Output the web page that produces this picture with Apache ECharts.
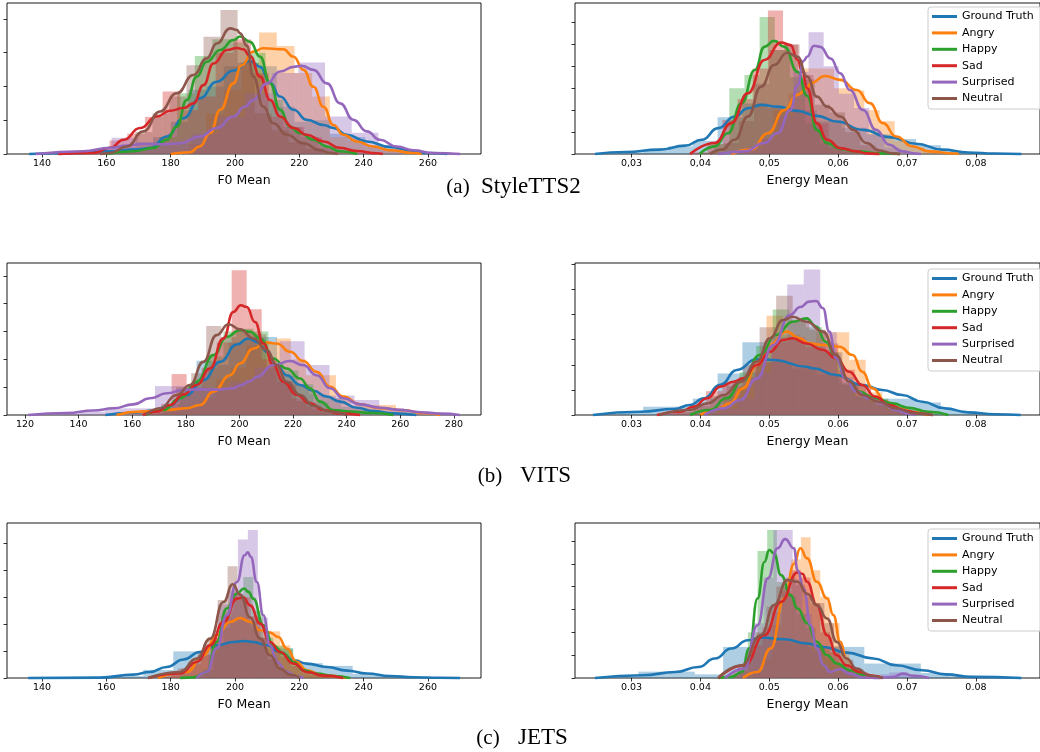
<!DOCTYPE html>
<html><head><meta charset="utf-8">
<script src="https://cdn.jsdelivr.net/npm/echarts@6/dist/echarts.min.js"></script>
<style>html,body{margin:0;padding:0;background:#fff}#c{width:1040px;height:752px}</style>
</head><body><div id="c"></div>
<script>
// ---------------- DATA ----------------
const SERIES_NAMES = ['Ground Truth','Angry','Happy','Sad','Surprised','Neutral'];
const COLORS = ['#1f77b4','#ff7f0e','#2ca02c','#d62728','#9467bd','#8c564b'];
const CAPTION_TAGS = ['(a)','(b)','(c)'];
const CAPTION_NAMES = ['StyleTTS2','VITS','JETS'];

// tick values
const X_TICKS_A_F0 = [140,160,180,200,220,240,260];
const X_TICKS_B_F0 = [120,140,160,180,200,220,240,260,280];
const X_TICKS_C_F0 = [140,160,180,200,220,240,260];
const X_TICKS_EN = [0.03,0.04,0.05,0.06,0.07,0.08];
const Y_TICKS_A_F0 = [0,0.01,0.02,0.03,0.04];
const Y_TICKS_A_EN = [0,20,40,60,80,100,120];
const Y_TICKS_B_F0 = [0,0.01,0.02,0.03,0.04,0.05];
const Y_TICKS_B_EN = [0,20,40,60,80,100,120];
const Y_TICKS_C_F0 = [0,0.02,0.04,0.06,0.08,0.10];
const Y_TICKS_C_EN = [0,25,50,75,100,125,150];

// ===== (a) StyleTTS2 — F0 Mean, KDE [x, density]
const A_F0_KDE_GT = [[136,0],[150,0.0003],[160,0.0008],[170,0.0014],[173.6,0.0018],[178.8,0.0052],[184,0.0106],[189.1,0.0165],[194.3,0.0214],[199.5,0.0247],[204.7,0.0275],[207.8,0.0258],[211,0.021],[214,0.017],[218.2,0.0131],[222.3,0.0101],[227.5,0.0086],[230.6,0.0077],[234.8,0.0057],[241,0.0037],[248.2,0.0021],[255.5,0.0008],[260,0.0003],[266,0]];
const A_F0_KDE_ANGRY = [[180,0],[186,0.0005],[189,0.0022],[192.3,0.0062],[195.4,0.0131],[199.5,0.0209],[202,0.0262],[205.7,0.0303],[208.8,0.0313],[215,0.031],[218.2,0.0288],[221.3,0.0249],[224.4,0.0199],[227.5,0.014],[230.6,0.0086],[233.7,0.0057],[237.9,0.0037],[243,0.0022],[248.2,0.0011],[255.5,0.0003],[258,0]];
const A_F0_KDE_HAPPY = [[160,0],[168.4,0.0008],[174.6,0.0018],[178.8,0.0042],[181.9,0.0081],[185,0.016],[188.1,0.0229],[191.2,0.0273],[195.4,0.0308],[199.5,0.0337],[201.6,0.0348],[204.7,0.0332],[207.8,0.0288],[210.9,0.0209],[214,0.0131],[217.1,0.0081],[220.2,0.0062],[224.4,0.0042],[228.6,0.0022],[232.7,0.0008],[238,0]];
const A_F0_KDE_SAD = [[145,0],[156,0.0003],[161.2,0.0018],[165.3,0.0042],[170.5,0.0077],[175.7,0.0111],[179.8,0.0128],[184,0.0136],[187.1,0.015],[190.2,0.0204],[193.3,0.0268],[197.5,0.0308],[200.6,0.0314],[202.5,0.031],[204.7,0.029],[207.8,0.0229],[210.9,0.016],[214,0.0111],[218.2,0.0077],[222.3,0.0057],[227.5,0.0037],[232.7,0.0018],[237.9,0.0009],[244.1,0.0002],[246,0]];
const A_F0_KDE_SURPRISED = [[138,0],[152.8,0.0008],[161.2,0.0018],[166.4,0.0025],[171.5,0.003],[176.7,0.0029],[183,0.0032],[189.1,0.0052],[194.3,0.0077],[199.5,0.0111],[203,0.014],[205.7,0.016],[209.9,0.0209],[214,0.0244],[218.2,0.0258],[220.8,0.0261],[224.4,0.0249],[228.6,0.0209],[232.7,0.015],[236.8,0.0101],[241,0.0067],[245.1,0.0042],[250.3,0.0022],[255.5,0.0011],[261.7,0.0003],[270,0]];
const A_F0_KDE_NEUTRAL = [[158,0],[161.2,0.0003],[166.4,0.0022],[171.5,0.0067],[176.7,0.0126],[181.9,0.018],[187.1,0.0234],[191.2,0.0283],[194.3,0.0327],[198.5,0.0372],[200.6,0.0367],[201.6,0.0357],[203.7,0.032],[205.7,0.0229],[208.8,0.014],[211.9,0.0091],[216.1,0.0057],[221.3,0.0032],[226.5,0.0011],[229.6,0.0003],[232,0]];
// histograms: first bin edge, bin width, densities
const A_F0_HIST_START = [136,180,160,150,136.7,158.4];
const A_F0_HIST_WIDTH = [5.5,5.5,5.5,5.5,8.3,5.3];
const A_F0_HIST_GT = [0.0002,0.0002,0.0004,0.0004,0.0008,0.0012,0.0015,0.005,0.0095,0.019,0.02,0.026,0.027,0.026,0.014,0.0095,0.01,0.006,0.005,0.0025,0.002,0.0008,0.0004,0.0002];
const A_F0_HIST_ANGRY = [0.0005,0.003,0.012,0.019,0.027,0.036,0.032,0.024,0.017,0.005,0.004,0.002,0.0012,0.0005];
const A_F0_HIST_HAPPY = [0.0005,0.001,0.0018,0.005,0.018,0.029,0.034,0.033,0.03,0.016,0.008,0.005,0.002,0.0005];
const A_F0_HIST_SAD = [0.0004,0.001,0.004,0.006,0.011,0.0185,0.013,0.017,0.03,0.034,0.024,0.011,0.008,0.005,0.002,0.001,0.0004];
const A_F0_HIST_SURPRISED = [0.0003,0.0006,0.001,0.0048,0.0035,0.003,0.006,0.011,0.018,0.024,0.0271,0.0111,0.0063,0.0015,0.0005,0.0002];
const A_F0_HIST_NEUTRAL = [0.0004,0.002,0.0065,0.012,0.017,0.0263,0.0347,0.0426,0.027,0.012,0.007,0.0035,0.0015,0.0004];

// ===== (a) StyleTTS2 — Energy Mean
const A_EN_KDE_GT = [[0.0247,0],[0.0292,1.8],[0.034,4],[0.0378,7.6],[0.0402,13],[0.0426,23.6],[0.045,34.2],[0.0469,41.8],[0.0488,44.8],[0.0512,43.2],[0.0541,39.4],[0.0569,34.8],[0.0598,29.6],[0.0636,22],[0.0674,15.4],[0.0713,9.4],[0.0751,4],[0.0789,1.4],[0.0827,0.4],[0.0866,0]];
const A_EN_KDE_ANGRY = [[0.0445,0],[0.0474,4],[0.0498,19],[0.0522,40.2],[0.0541,54],[0.0555,60],[0.056,64.6],[0.0581,71.2],[0.0603,67.6],[0.0627,58.4],[0.0646,46.4],[0.0665,28.2],[0.0684,16],[0.0708,7],[0.0732,2.4],[0.077,0.4],[0.0775,0]];
const A_EN_KDE_HAPPY = [[0.0399,0],[0.0421,7],[0.044,19],[0.046,46.4],[0.0479,76.6],[0.0493,97.8],[0.0507,103.2],[0.0522,97.8],[0.0541,75],[0.0555,53],[0.0569,22],[0.0584,10],[0.0603,4.6],[0.0627,2.4],[0.066,0.6],[0.069,0]];
const A_EN_KDE_SAD = [[0.0385,0],[0.0421,10],[0.0445,28.2],[0.0469,55.4],[0.0493,85.8],[0.0517,101.8],[0.0531,99.4],[0.0541,86],[0.0548,75],[0.0555,60],[0.0569,28.2],[0.0584,13],[0.0603,5.4],[0.0627,2.4],[0.0641,0.6],[0.066,0]];
const A_EN_KDE_SURPRISED = [[0.0426,0],[0.0464,2.4],[0.0493,10],[0.0512,19],[0.0531,40.2],[0.0541,63],[0.055,85],[0.0555,88.8],[0.0565,98.8],[0.0574,97.8],[0.0589,87.2],[0.0603,73.6],[0.0617,58.4],[0.0636,40.2],[0.0655,22],[0.0674,8.4],[0.0693,2.4],[0.0713,0.4],[0.072,0]];
const A_EN_KDE_NEUTRAL = [[0.0414,0],[0.0431,4],[0.045,13],[0.0469,34.2],[0.0488,61.4],[0.0507,81.2],[0.0526,92.4],[0.0541,88.8],[0.0555,70.6],[0.0569,52.4],[0.0584,43.2],[0.0603,34.2],[0.0622,22],[0.0641,10],[0.066,3.2],[0.0679,0.6],[0.069,0]];
const A_EN_HIST_START = [0.0245,0.0440,0.0398,0.0388,0.0425,0.0412];
const A_EN_HIST_WIDTH = [0.0036,0.0022,0.0022,0.0022,0.0022,0.0022];
const A_EN_HIST_GT = [0.4,1.5,3,6.9,12,33.6,46,42,40,30,24,18,13.6,8,2.5,1,0.3];
const A_EN_HIST_ANGRY = [0.5,5,14,40,55,78,78,60,58,40,30,12,6,2,0.5];
const A_EN_HIST_HAPPY = [1,9,60,72,125,95,70,28,10,4,1.5,0.5];
const A_EN_HIST_SAD = [1.5,9,31,50,78,131,100,72,28,6,2];
const A_EN_HIST_SURPRISED = [0.5,2,6,14,35,75,111,80,55,42,18,6,1.5];
const A_EN_HIST_NEUTRAL = [2,10,30,64,95,100,68,45,38,20,8,2];

// ===== (b) VITS — F0 Mean
const B_F0_KDE_GT = [[150,0],[160.4,0.0008],[167.9,0.0016],[172.9,0.003],[180.3,0.0072],[186.5,0.0125],[192.8,0.0191],[199,0.0253],[203.3,0.0275],[207.1,0.026],[210.2,0.0227],[213.9,0.0179],[217.6,0.0143],[222.6,0.0108],[227.6,0.0087],[232.6,0.0066],[237.5,0.0048],[243.8,0.0026],[250,0.0014],[257.4,0.0006],[266,0]];
const B_F0_KDE_ANGRY = [[154.2,0],[162.9,0.0012],[172.9,0.0018],[180.3,0.0024],[185.3,0.0036],[190.3,0.0084],[196.5,0.0143],[200.2,0.0185],[205.2,0.0239],[210.2,0.0261],[213.9,0.0257],[218.9,0.0227],[223.8,0.0194],[228.8,0.0155],[233.8,0.0101],[238.8,0.0066],[245,0.0038],[252.5,0.0024],[261.2,0.0017],[268.6,0.0007],[274.9,0]];
const B_F0_KDE_HAPPY = [[165,0],[171.6,0.0018],[177.8,0.006],[184.1,0.0119],[190.3,0.0215],[195.3,0.0281],[200.2,0.0305],[204,0.0299],[207.7,0.0275],[212.6,0.0203],[217.6,0.0167],[222.6,0.0131],[226.3,0.0096],[230.1,0.0048],[235,0.0018],[241.3,0.0012],[250,0.0007],[257.4,0]];
const B_F0_KDE_SAD = [[164,0],[169.1,0.0012],[174.1,0.0036],[179.1,0.0074],[184.1,0.0108],[189,0.0167],[194,0.0275],[197.7,0.037],[200.5,0.0394],[202.7,0.0388],[205.8,0.0334],[208.9,0.0257],[212.6,0.0179],[216.4,0.0119],[221.4,0.0072],[226.3,0.0042],[231.3,0.0018],[237.5,0.0005],[245,0]];
const B_F0_KDE_SURPRISED = [[121.2,0],[135.6,0.0007],[145.5,0.0016],[153,0.0024],[160.4,0.0038],[166.6,0.006],[172.9,0.0078],[179.1,0.009],[185.3,0.0092],[191.5,0.0091],[197.7,0.0096],[200.2,0.0106],[204,0.0122],[206.5,0.0137],[212.6,0.0179],[218.9,0.0194],[223.8,0.0179],[228.8,0.0143],[233.8,0.0096],[238.8,0.006],[245,0.0038],[252.5,0.0026],[259.9,0.0018],[267.4,0.001],[274.9,0.0005],[282.2,0]];
const B_F0_KDE_NEUTRAL = [[165,0],[170.4,0.0024],[176.6,0.0072],[181.6,0.0108],[186.5,0.0191],[191.5,0.0287],[195.9,0.0326],[200.2,0.0308],[205.2,0.0275],[210.2,0.0233],[213.9,0.0179],[217.6,0.0119],[222.6,0.0072],[227.6,0.0033],[233.8,0.0012],[240,0]];
const B_F0_HIST_START = [160,152,166,163.5,122,165.2];
const B_F0_HIST_WIDTH = [6,5.6,5.6,5.6,9.3,5.6];
const B_F0_HIST_GT = [0.001,0.0012,0.004,0.009,0.0195,0.018,0.026,0.027,0.028,0.014,0.011,0.0075,0.006,0.003,0.002,0.0008,0.0004];
const B_F0_HIST_ANGRY = [0.0003,0.0009,0.0014,0.0016,0.002,0.003,0.006,0.013,0.017,0.025,0.026,0.0275,0.02,0.0143,0.0143,0.006,0.0035,0.0036,0.0036,0.0015,0.0008,0.0002];
const B_F0_HIST_HAPPY = [0.0004,0.0025,0.0075,0.013,0.021,0.03,0.031,0.03,0.018,0.016,0.011,0.0045,0.002,0.0012,0.0007,0.0004];
const B_F0_HIST_SAD = [0.0005,0.002,0.0147,0.009,0.017,0.026,0.052,0.038,0.02,0.012,0.006,0.003,0.001,0.0002];
const B_F0_HIST_SURPRISED = [0.0002,0.0006,0.0012,0.0024,0.0024,0.0104,0.0104,0.009,0.012,0.017,0.0265,0.018,0.007,0.0054,0.0025,0.0012,0.0004];
const B_F0_HIST_NEUTRAL = [0.001,0.004,0.01,0.015,0.032,0.028,0.03,0.029,0.017,0.012,0.005,0.002,0.0005];

// ===== (b) VITS — Energy Mean
const B_EN_KDE_GT = [[0.0244,0],[0.0313,2.6],[0.0362,4.8],[0.0385,8],[0.0405,13.3],[0.0429,24],[0.0453,35.9],[0.0482,44.6],[0.0506,43.8],[0.0554,38.5],[0.0563,37.2],[0.0597,31.9],[0.0635,23.9],[0.0664,19.9],[0.0693,15.9],[0.0722,10.6],[0.0755,5.3],[0.0789,2.1],[0.0827,0.6],[0.0865,0]];
const B_EN_KDE_ANGRY = [[0.04,0],[0.0424,4.8],[0.0443,9.3],[0.0462,21.2],[0.0482,39.8],[0.0501,55.8],[0.0525,66.4],[0.0544,61.1],[0.0558,57.1],[0.0578,55.8],[0.0602,54.4],[0.0621,47.8],[0.0635,34.5],[0.065,21.2],[0.0669,10.6],[0.0688,5.3],[0.0712,2.1],[0.0731,0]];
const B_EN_KDE_HAPPY = [[0.0385,0],[0.0414,4],[0.0438,13.3],[0.0462,27.9],[0.0486,47.8],[0.051,63.7],[0.0534,74.3],[0.0554,77],[0.0568,70.4],[0.0582,58.4],[0.0597,45.2],[0.0611,29.2],[0.063,18.6],[0.0654,13.3],[0.0679,9.3],[0.0702,5.8],[0.0731,2.6],[0.076,0]];
const B_EN_KDE_SAD = [[0.0337,0],[0.0371,2.6],[0.039,6.6],[0.041,13.3],[0.0429,22.6],[0.0448,26.5],[0.0462,29.2],[0.0482,39.8],[0.0501,50.4],[0.052,59.8],[0.0534,61.1],[0.0554,57],[0.0578,51.8],[0.0597,45.2],[0.0616,34.5],[0.0635,23.9],[0.0654,14.6],[0.0674,8],[0.0698,3.4],[0.0722,1],[0.0737,0]];
const B_EN_KDE_SURPRISED = [[0.0406,0],[0.0434,5.3],[0.0458,12],[0.0482,29.2],[0.0506,55.8],[0.053,79.7],[0.0545,86],[0.0558,90.3],[0.0568,90.8],[0.0578,85],[0.0587,66.4],[0.0597,45.2],[0.0611,29.2],[0.0626,18.6],[0.0645,13.3],[0.0664,9.3],[0.0683,4],[0.0702,1],[0.0712,0]];
const B_EN_KDE_NEUTRAL = [[0.034,0],[0.0385,4],[0.041,9.3],[0.0434,15.9],[0.0458,26.5],[0.0482,42.5],[0.0501,61.1],[0.052,75.7],[0.0534,78.3],[0.0554,74.3],[0.0578,66.4],[0.0597,47.8],[0.0616,26.5],[0.0635,15.9],[0.0659,10.6],[0.0683,5.3],[0.0712,1.3],[0.0737,0]];
const B_EN_HIST_START = [0.0245,0.0400,0.0385,0.0336,0.0406,0.0366];
const B_EN_HIST_WIDTH = [0.0036,0.0024,0.0024,0.0024,0.0024,0.0024];
const B_EN_HIST_GT = [0.4,1.8,6.6,6.6,13,33,58,42,37,32,25,13,13,10,4,1.5,0.3];
const B_EN_HIST_ANGRY = [1.5,7,22,40,79,64,56,66,66,44,18,8,3,0.8];
const B_EN_HIST_HAPPY = [1,5,15,34,55,84,76,70,50,26,15,13,8,5,2,0.5];
const B_EN_HIST_SAD = [0.5,2.5,8,19,26,30,42,58,62,54,57,36,24,12,5,2,0.4];
const B_EN_HIST_SURPRISED = [2,5,13,34,62,104,116,66,30,15,10,4,0.8];
const B_EN_HIST_NEUTRAL = [2.5,7,15,23,40,70,95,75,68,50,24,14,8,4,1];

// ===== (c) JETS — F0 Mean
const C_F0_KDE_GT = [[135.7,0],[158,0.0003],[168.4,0.0025],[173.6,0.0045],[178.8,0.0082],[184,0.0137],[189.1,0.0193],[194.3,0.0243],[199.5,0.0268],[203,0.0275],[205.7,0.0268],[209.9,0.0243],[214,0.0193],[218.2,0.0132],[222.3,0.0107],[228.6,0.0082],[234.8,0.0055],[241,0.0033],[248.2,0.0015],[255.5,0.0006],[263.7,0.0002],[270,0]];
const C_F0_KDE_ANGRY = [[176,0],[185,0.0045],[190.2,0.0169],[194.3,0.0318],[198.5,0.0416],[201.6,0.0446],[204.7,0.0418],[207.8,0.0355],[210.9,0.0337],[213.5,0.0305],[216.1,0.0219],[219.2,0.0119],[222.3,0.0057],[227.5,0.0018],[234.8,0]];
const C_F0_KDE_HAPPY = [[182.9,0],[187.1,0.0005],[191.2,0.0045],[194.3,0.0268],[197.4,0.0516],[200.6,0.0628],[202.8,0.0665],[204.2,0.064],[205.7,0.059],[208.8,0.0392],[211.9,0.0243],[215,0.0181],[218.2,0.0119],[221.3,0.0057],[225.4,0.0033],[230.6,0.0015],[235.8,0]];
const C_F0_KDE_SAD = [[173,0],[182.9,0.0033],[188.1,0.0119],[192.3,0.0243],[196.4,0.0416],[200.6,0.059],[202.5,0.06],[204.7,0.054],[207.8,0.0404],[210.9,0.0268],[214,0.0193],[218.2,0.0107],[222.3,0.0045],[227.5,0.0018],[233.7,0]];
const C_F0_KDE_SURPRISED = [[188.1,0],[191.2,0.0045],[194.3,0.0219],[197.4,0.0466],[200.6,0.0714],[203,0.0912],[204,0.0935],[204.9,0.09],[206.8,0.0714],[208.8,0.0466],[210.9,0.0243],[213,0.0119],[216.1,0.0045],[219.2,0.001],[221.3,0]];
const C_F0_KDE_NEUTRAL = [[173,0],[182.9,0.0045],[188.1,0.0144],[192.3,0.0293],[196.4,0.0565],[199.3,0.0697],[201.6,0.062],[204.7,0.045],[207.8,0.0293],[210.9,0.0169],[214,0.007],[217.1,0.0025],[220.2,0]];
const C_F0_HIST_START = [134.3,180,184,177,188.5,176];
const C_F0_HIST_WIDTH = [9.3,3.1,3.1,3.1,3.1,3.1];
const C_F0_HIST_GT = [0.0001,0.0002,0.0004,0.0015,0.006,0.0198,0.025,0.027,0.022,0.011,0.009,0.003,0.0012,0.0003,0.0001];
const C_F0_HIST_ANGRY = [0.002,0.004,0.01,0.017,0.03,0.037,0.044,0.045,0.038,0.0347,0.0347,0.0243,0.014,0.006,0.003,0.0013,0.0004];
const C_F0_HIST_HAPPY = [0.0003,0.001,0.006,0.026,0.05,0.062,0.075,0.05,0.03,0.024,0.022,0.009,0.004,0.003,0.0015,0.0006];
const C_F0_HIST_SAD = [0.001,0.0025,0.007,0.011,0.017,0.03,0.046,0.062,0.06,0.046,0.03,0.022,0.016,0.009,0.005,0.0025,0.0015,0.0005];
const C_F0_HIST_SURPRISED = [0.003,0.018,0.0548,0.065,0.103,0.11,0.045,0.017,0.006,0.0015];
const C_F0_HIST_NEUTRAL = [0.001,0.003,0.007,0.012,0.02,0.03,0.058,0.083,0.06,0.042,0.03,0.014,0.006,0.002];

// ===== (c) JETS — Energy Mean
const C_EN_KDE_GT = [[0.0247,0],[0.0316,3],[0.0364,6.6],[0.0397,12],[0.0421,21.3],[0.0445,32.2],[0.0469,41.3],[0.0488,44.3],[0.0522,42.4],[0.0555,37.7],[0.0579,34],[0.0612,27.8],[0.0651,21.3],[0.0684,13.9],[0.0722,8.4],[0.0756,4],[0.0794,1.2],[0.0866,0]];
const C_EN_KDE_ANGRY = [[0.0462,0],[0.0483,6.6],[0.0502,32.2],[0.0522,87],[0.0536,125],[0.0545,141.9],[0.0555,130.9],[0.0569,105.3],[0.0584,87],[0.0593,68.8],[0.0603,39.5],[0.0612,21.3],[0.0627,8.4],[0.0646,2.5],[0.066,0]];
const C_EN_KDE_HAPPY = [[0.0426,0],[0.0445,1.2],[0.046,6.6],[0.0471,32.2],[0.0483,87],[0.0493,127],[0.05,140],[0.0507,136.4],[0.0517,112.6],[0.0531,90.7],[0.0541,76],[0.0555,60],[0.0569,39.5],[0.0584,24.9],[0.0598,15.8],[0.0617,8.4],[0.0636,3.7],[0.0655,0]];
const C_EN_KDE_SAD = [[0.0426,0],[0.0464,13.9],[0.0493,46.8],[0.0517,83.3],[0.0541,115.5],[0.0548,114],[0.0555,105.3],[0.0569,79.7],[0.0584,46.8],[0.0598,24.9],[0.0612,13.9],[0.0631,6.6],[0.065,2.5],[0.0665,0]];
const C_EN_KDE_SURPRISED = [[0.0436,0],[0.0464,10.3],[0.0483,57.8],[0.0498,109],[0.0512,141.9],[0.0523,152],[0.0536,141.9],[0.0541,118],[0.055,98],[0.056,57.8],[0.0569,32.2],[0.0579,13.9],[0.0588,6.6],[0.0603,9.5],[0.0617,4.8],[0.0636,0.5],[0.066,0],[0.0679,1],[0.0694,4.8],[0.0708,2.5],[0.0732,0]];
const C_EN_KDE_NEUTRAL = [[0.0426,0],[0.046,13.9],[0.0488,46.8],[0.0507,79.7],[0.0526,107.1],[0.0541,105.3],[0.0555,92],[0.0569,79.7],[0.0584,65.1],[0.0598,39.5],[0.0612,21.3],[0.0627,10.3],[0.0646,2.5],[0.0665,0]];
const C_EN_HIST_START = [0.0269,0.0462,0.0427,0.0434,0.0436,0.0426];
const C_EN_HIST_WIDTH = [0.0041,0.0014,0.0014,0.0014,0.0014,0.0014];
const C_EN_HIST_GT = [1.5,7,7,4,34,44,40,34,34,15.8,15.8,5.5,2,0.8,0.2];
const C_EN_HIST_ANGRY = [2,7,22,58,100,130,154,118,89,60,30,10,3,0.5];
const C_EN_HIST_HAPPY = [0.2,1.5,8,50,139,162,105,90,70,55,35,22,14,8,4,1.5];
const C_EN_HIST_SAD = [1,6,17,36,55,72,95,118,110,82,50,28,15,9,4,2,0.3];
const C_EN_HIST_SURPRISED = [1,5,24,60,110,162,162,108,70,30,10,6,8,4,0,0,4,6,6,4,0];
const C_EN_HIST_NEUTRAL = [0.5,4,14,30,50,78,100,110,102,88,82,60,35,20,9,3,1];

// ---------------- LAYOUT ----------------
const ROWS = [
  {top:3, height:151, legendTop:7, capY:187, tagX:458, nameX:481},
  {top:263, height:152, legendTop:269, capY:476, tagX:490, nameX:520},
  {top:523, height:155, legendTop:529, capY:738, tagX:488, nameX:518}
];
const PANELS = [
  {row:0, left:7, width:474, xr:[129.1,276.5], ymax:0.0447, xt:X_TICKS_A_F0, yt:Y_TICKS_A_F0, name:'F0 Mean', comma:false, energy:false,
   kde:[A_F0_KDE_GT,A_F0_KDE_ANGRY,A_F0_KDE_HAPPY,A_F0_KDE_SAD,A_F0_KDE_SURPRISED,A_F0_KDE_NEUTRAL],
   hs:A_F0_HIST_START, hw:A_F0_HIST_WIDTH, hist:[A_F0_HIST_GT,A_F0_HIST_ANGRY,A_F0_HIST_HAPPY,A_F0_HIST_SAD,A_F0_HIST_SURPRISED,A_F0_HIST_NEUTRAL]},
  {row:0, left:575, width:471, xr:[0.0218,0.0893], ymax:137.8, xt:X_TICKS_EN, yt:Y_TICKS_A_EN, name:'Energy Mean', comma:true, energy:true,
   kde:[A_EN_KDE_GT,A_EN_KDE_ANGRY,A_EN_KDE_HAPPY,A_EN_KDE_SAD,A_EN_KDE_SURPRISED,A_EN_KDE_NEUTRAL],
   hs:A_EN_HIST_START, hw:A_EN_HIST_WIDTH, hist:[A_EN_HIST_GT,A_EN_HIST_ANGRY,A_EN_HIST_HAPPY,A_EN_HIST_SAD,A_EN_HIST_SURPRISED,A_EN_HIST_NEUTRAL]},
  {row:1, left:7, width:474, xr:[113.3,290.1], ymax:0.0546, xt:X_TICKS_B_F0, yt:Y_TICKS_B_F0, name:'F0 Mean', comma:false, energy:false,
   kde:[B_F0_KDE_GT,B_F0_KDE_ANGRY,B_F0_KDE_HAPPY,B_F0_KDE_SAD,B_F0_KDE_SURPRISED,B_F0_KDE_NEUTRAL],
   hs:B_F0_HIST_START, hw:B_F0_HIST_WIDTH, hist:[B_F0_HIST_GT,B_F0_HIST_ANGRY,B_F0_HIST_HAPPY,B_F0_HIST_SAD,B_F0_HIST_SURPRISED,B_F0_HIST_NEUTRAL]},
  {row:1, left:575, width:471, xr:[0.0218,0.0893], ymax:121.1, xt:X_TICKS_EN, yt:Y_TICKS_B_EN, name:'Energy Mean', comma:false, energy:true,
   kde:[B_EN_KDE_GT,B_EN_KDE_ANGRY,B_EN_KDE_HAPPY,B_EN_KDE_SAD,B_EN_KDE_SURPRISED,B_EN_KDE_NEUTRAL],
   hs:B_EN_HIST_START, hw:B_EN_HIST_WIDTH, hist:[B_EN_HIST_GT,B_EN_HIST_ANGRY,B_EN_HIST_HAPPY,B_EN_HIST_SAD,B_EN_HIST_SURPRISED,B_EN_HIST_NEUTRAL]},
  {row:2, left:7, width:474, xr:[129.1,276.5], ymax:0.1152, xt:X_TICKS_C_F0, yt:Y_TICKS_C_F0, name:'F0 Mean', comma:false, energy:false,
   kde:[C_F0_KDE_GT,C_F0_KDE_ANGRY,C_F0_KDE_HAPPY,C_F0_KDE_SAD,C_F0_KDE_SURPRISED,C_F0_KDE_NEUTRAL],
   hs:C_F0_HIST_START, hw:C_F0_HIST_WIDTH, hist:[C_F0_HIST_GT,C_F0_HIST_ANGRY,C_F0_HIST_HAPPY,C_F0_HIST_SAD,C_F0_HIST_SURPRISED,C_F0_HIST_NEUTRAL]},
  {row:2, left:575, width:471, xr:[0.0218,0.0893], ymax:169.6, xt:X_TICKS_EN, yt:Y_TICKS_C_EN, name:'Energy Mean', comma:false, energy:true,
   kde:[C_EN_KDE_GT,C_EN_KDE_ANGRY,C_EN_KDE_HAPPY,C_EN_KDE_SAD,C_EN_KDE_SURPRISED,C_EN_KDE_NEUTRAL],
   hs:C_EN_HIST_START, hw:C_EN_HIST_WIDTH, hist:[C_EN_HIST_GT,C_EN_HIST_ANGRY,C_EN_HIST_HAPPY,C_EN_HIST_SAD,C_EN_HIST_SURPRISED,C_EN_HIST_NEUTRAL]}
];

function binRows(start, width, heights){
  return heights.map((h,i)=>[start + i*width, start + (i+1)*width, h]);
}
function histRenderer(color){
  return function(params, api){
    const a = api.coord([api.value(0), api.value(2)]);
    const b = api.coord([api.value(1), 0]);
    return {type:'rect', shape:{x:a[0], y:a[1], width:b[0]-a[0], height:b[1]-a[1]},
            style:{fill:color, opacity:0.36}};
  };
}

const grids=[], xAxes=[], yAxes=[], series=[], legends=[], graphics=[];
const FONT = 'DejaVu Sans';
PANELS.forEach((p,i)=>{
  const r = ROWS[p.row];
  grids.push({left:p.left, top:r.top, width:p.width, height:r.height, show:true,
    borderColor:'#000', borderWidth:0.9, backgroundColor:'transparent', containLabel:false});
  xAxes.push({type:'value', gridIndex:i, min:p.xr[0], max:p.xr[1],
    name:p.name, nameLocation:'middle', nameGap:20,
    nameTextStyle:{fontFamily:FONT, fontSize:12.5, color:'#000'},
    axisLine:{show:false}, splitLine:{show:false},
    axisTick:{show:true, length:3.5, inside:false, lineStyle:{color:'#000', width:0.8}, customValues:p.xt},
    axisLabel:{show:true, fontFamily:FONT, fontSize:9.5, color:'#000', margin:5, customValues:p.xt,
      formatter: v => { if (p.energy){ const s = Number(v).toFixed(2); return p.comma ? s.replace('.', ',') : s; } return String(Math.round(v)); }}
  });
  yAxes.push({type:'value', gridIndex:i, min:0, max:p.ymax,
    axisLine:{show:false}, splitLine:{show:false},
    axisTick:{show:true, length:3.5, inside:false, lineStyle:{color:'#000', width:0.8}, customValues:p.yt},
    axisLabel:{show:false, customValues:p.yt}
  });
  p.hist.forEach((h,k)=>{
    series.push({type:'custom', name:SERIES_NAMES[k]+' hist', xAxisIndex:i, yAxisIndex:i,
      data:binRows(p.hs[k], p.hw[k], h), encode:{x:[0,1], y:2},
      renderItem:histRenderer(COLORS[k]), silent:true, clip:true, z:1});
  });
  p.kde.forEach((d,k)=>{
    series.push({type:'line', name:SERIES_NAMES[k], xAxisIndex:i, yAxisIndex:i, data:d,
      smooth:0.5, smoothMonotone:'x', showSymbol:false, symbol:'none', clip:false,
      lineStyle:{color:COLORS[k], width:2.6}, itemStyle:{color:COLORS[k]}, z:3, silent:true});
  });
});
ROWS.forEach((r,j)=>{
  legends.push({orient:'vertical', left:928, top:r.legendTop, data:SERIES_NAMES.slice(),
    icon:'rect', itemWidth:25, itemHeight:3, itemGap:3.4, selectedMode:false,
    textStyle:{fontFamily:FONT, fontSize:11, color:'#000', lineHeight:13},
    padding:[3,40,4,4], borderColor:'#cccccc', borderWidth:1, borderRadius:3,
    backgroundColor:'rgba(255,255,255,0.8)'});
  graphics.push({type:'text', x:r.tagX, y:r.capY,
    style:{text:CAPTION_TAGS[j], font:'21px "Liberation Serif"', fill:'#000', textAlign:'center', textVerticalAlign:'middle'}});
  graphics.push({type:'text', x:r.nameX, y:r.capY,
    style:{text:CAPTION_NAMES[j], font:'23px "Liberation Serif"', fill:'#000', textAlign:'left', textVerticalAlign:'middle'}});
});

const chart = echarts.init(document.getElementById('c'), null, {renderer:'canvas', width:1040, height:752});
chart.setOption({animation:false, backgroundColor:'#fff', grid:grids, xAxis:xAxes, yAxis:yAxes,
  series:series, legend:legends, graphic:graphics});
</script></body></html>
